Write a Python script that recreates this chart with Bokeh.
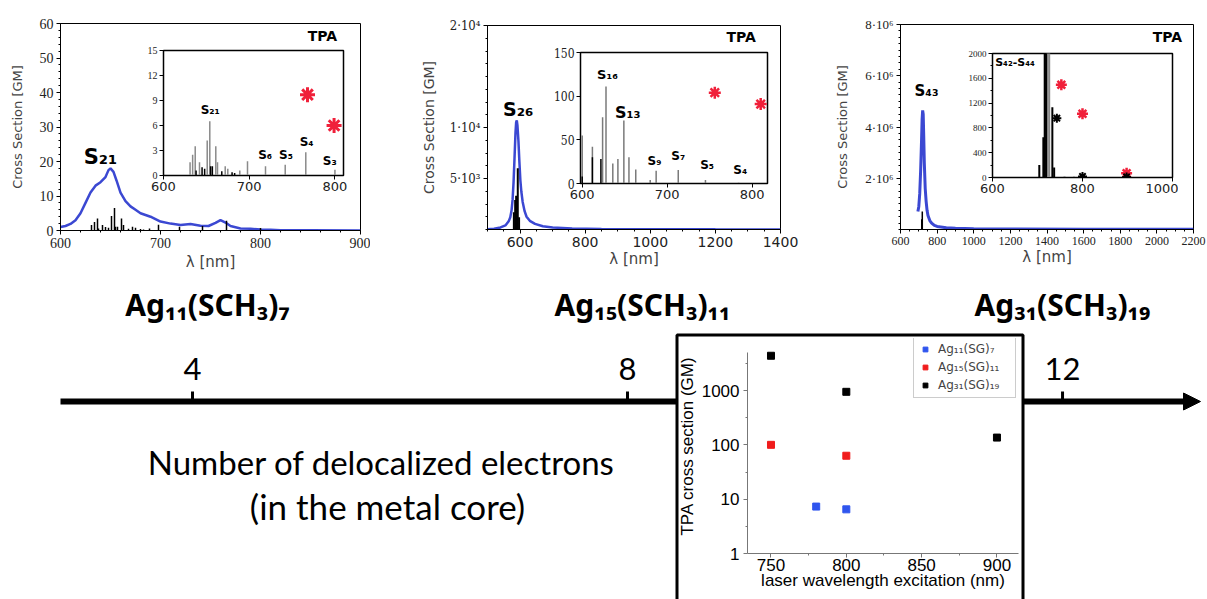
from bokeh.plotting import figure
from bokeh.layouts import column
from bokeh.models import (Range1d, FixedTicker, SingleIntervalTicker, Arrow, NormalHead,
                          BoxAnnotation, Label, Legend, LegendItem)
from bokeh.core.properties import value
from bokeh.embed import file_html
from bokeh.resources import INLINE

# ---------------- data ----------------
# Ag11(SCH3)7 TPA spectrum
ag11_wl = [600, 605, 610, 615, 620, 625, 630, 635, 640, 645, 648, 650, 653, 656, 660, 665, 670, 675, 680, 690,
           700, 710, 720, 730, 740, 748, 755, 760, 765, 770, 780, 790, 800, 810, 820, 850, 900]
ag11_cs = [1.0, 1.3, 1.9, 3.0, 5.0, 8.0, 11.0, 13.0, 14.0, 15.5, 17.5, 18.0, 17.0, 14.5, 11.0, 8.5, 7.0, 6.0, 5.0, 4.0,
           2.6, 2.0, 1.6, 1.9, 1.4, 1.3, 2.2, 3.0, 2.3, 1.3, 0.6, 0.5, 0.3, 0.2, 0.1, 0.05, 0.0]
ag11_gray_x = [631, 634, 637, 642, 651, 654, 661, 663, 672, 675, 689, 698, 719, 742, 766, 800]
ag11_gray_y = [1.6, 2.5, 3.5, 1.6, 4.2, 6.5, 3.5, 1.6, 1.1, 0.8, 0.6, 1.7, 1.1, 1.3, 2.8, 0.7]
ag11_black_x = [638, 645, 648, 655, 657, 668, 680, 683]
ag11_black_y = [0.6, 1.0, 0.8, 1.1, 1.1, 0.5, 0.4, 0.3]
ag11_star_x = [768, 799]
ag11_star_y = [9.7, 6.0]

# Ag15(SCH3)11 TPA spectrum
ag15_wl = [500, 520, 540, 555, 565, 570, 574, 577, 580, 583, 586, 588, 590, 592, 595, 598, 601, 604, 608, 614,
           620, 630, 646, 670, 700, 760, 850, 1000, 1200, 1400]
ag15_cs = [30, 80, 200, 400, 800, 1200, 1900, 2900, 4600, 7000, 9500, 10500, 10700, 10200, 8700, 6600, 4800, 3700,
           2700, 1800, 1250, 850, 550, 320, 200, 110, 60, 30, 15, 10]
ag15_main_x = [581, 585, 588, 593, 597]
ag15_main_y = [1700, 2900, 3300, 6000, 1200]
ag15_gray_x = [600, 612, 624, 628, 636, 642, 649, 655, 663, 680, 687, 713, 745, 784]
ag15_gray_y = [55, 42, 76, 111, 23, 28, 72, 30, 16, 4, 14.5, 15.6, 4, 1]
ag15_black_x = [600, 612, 622]
ag15_black_y = [8, 30, 28]
ag15_star_x = [756, 810]
ag15_star_y = [104, 91]

# Ag31(SCH3)19 TPA spectrum
ag31_wl = [695, 700, 705, 710, 715, 718, 721, 724, 727, 730, 735, 740, 745, 750, 760, 770, 785, 800, 850, 900,
           1000, 1200, 1600, 2200]
ag31_cs = [0.7e6, 0.9e6, 1.4e6, 2.3e6, 3.5e6, 4.3e6, 4.65e6, 4.5e6, 3.6e6, 2.6e6, 1.6e6, 1.1e6, 0.75e6, 0.55e6,
           0.35e6, 0.25e6, 0.16e6, 0.12e6, 0.07e6, 0.05e6, 0.03e6, 0.02e6, 0.01e6, 0.01e6]
ag31_black_x = [704, 713, 716, 719, 733, 737]
ag31_black_y = [200, 650, 4.0e5, 7.0e5, 1135, 160]
ag31_gray_x = [722, 726, 760, 781]
ag31_gray_y = [3.0e5, 2.0e5, 20, 15]
ag31_red_x = [753, 800, 898]
ag31_red_y = [1497, 1027, 70]
ag31_blk_x = [743, 800, 898]
ag31_blk_y = [957, 16, 10]

# measured TPA cross sections (bottom chart)
exp_ag11_x = [780, 800]
exp_ag11_y = [7.3, 6.5]
exp_ag15_x = [750, 800]
exp_ag15_y = [100, 63]
exp_ag31_x = [750, 800, 900]
exp_ag31_y = [4360, 946, 136]

# timeline
electrons = [4, 8, 12]

BLUE = "#3b48d2"
RED = "#f0203a"


def frame_fig(fl, ft, fw, fh, bl, br, bt, bb, xr, yr, **kw):
    f = figure(width=fw + bl + br, height=fh + bt + bb, x_range=xr, y_range=yr,
               output_backend="svg", toolbar_location=None, frame_align=False,
               min_border_left=bl, min_border_right=br, min_border_top=bt, min_border_bottom=bb, **kw)
    f.styles = {"position": "absolute", "left": f"{fl - bl}px", "top": f"{ft - bt}px"}
    f.border_fill_color = None
    f.background_fill_color = "white"
    f.grid.visible = False
    f.outline_line_color = "black"
    return f


def style_axis(ax, font, size, color="#222222", tick_out=4, standoff=3):
    ax.major_label_text_font = font
    ax.major_label_text_font_size = size
    ax.major_label_text_color = color
    ax.major_tick_out = tick_out
    ax.major_tick_in = 0
    ax.minor_tick_out = 2
    ax.minor_tick_in = 0
    ax.major_label_standoff = standoff
    ax.axis_line_color = "black"
    ax.axis_label_text_font_style = "normal"
    ax.axis_label_text_font = "DejaVu Sans"
    ax.axis_label_text_color = "#444444"


def add_label(f, x, y, text, size, bold=True, align="center", font="DejaVu Sans", color="black"):
    f.add_layout(Label(x=x, y=y, text=text, text_font=font, text_font_size=size,
                       text_font_style="bold" if bold else "normal", text_align=align,
                       text_baseline="middle", text_color=color))


# ---------------- canvas (timeline, titles) ----------------
canvas = figure(width=1207, height=599, x_range=Range1d(0, 1207), y_range=Range1d(599, 0),
                output_backend="svg", toolbar_location=None, min_border=0, frame_align=False,
                x_axis_location=None, y_axis_location=None)
canvas.grid.visible = False
canvas.outline_line_color = None
canvas.styles = {"position": "absolute", "left": "0px", "top": "0px"}
canvas.extra_x_ranges = {"el": Range1d(2.2345, 13.333)}

canvas.add_layout(Arrow(x_start=60, y_start=401, x_end=1200, y_end=401, line_width=6, line_color="black",
                        end=NormalHead(size=17, fill_color="black", line_color="black", line_width=1)))
canvas.segment(x0=electrons, y0=391, x1=electrons, y1=401, x_range_name="el", line_width=3, line_color="black")
canvas.text(x=electrons, y=368, text=[str(e) for e in electrons], x_range_name="el",
            text_font=value("Lato"), text_font_size="31px", text_align="center", text_baseline="middle",
            text_color="black")
canvas.add_layout(BoxAnnotation(left=676.5, right=1022.5, top=334.5, bottom=610, fill_color="white", fill_alpha=1,
                                line_color="black", line_alpha=1, line_width=3))
canvas.add_layout(Label(x=381, y=461, text="Number of delocalized electrons", text_font="Lato",
                        text_font_size="33px", text_align="center", text_baseline="alphabetic", text_color="black"))
canvas.add_layout(Label(x=387, y=505, text="(in the metal core)", text_font="Lato",
                        text_font_size="35px", text_align="center", text_baseline="alphabetic", text_color="black"))
for x, t in [(207, "Ag₁₁(SCH₃)₇"), (642, "Ag₁₅(SCH₃)₁₁"), (1062, "Ag₃₁(SCH₃)₁₉")]:
    canvas.add_layout(Label(x=x, y=304, text=t, text_font="Noto Sans", text_font_size="30px",
                            text_font_style="bold", text_align="center", text_baseline="alphabetic",
                            text_color="black"))

# ---------------- panel 1: Ag11 ----------------
p1 = frame_fig(60, 23, 300, 207, 60, 10, 10, 45, Range1d(600, 900), Range1d(0, 60))
p1.line(ag11_wl, ag11_cs, line_color=BLUE, line_width=2.5)
p1.segment(x0=ag11_gray_x, y0=0, x1=ag11_gray_x, y1=ag11_gray_y, line_color="black", line_width=1.5)
p1.segment(x0=ag11_black_x, y0=0, x1=ag11_black_x, y1=ag11_black_y, line_color="black", line_width=1.5)
p1.xaxis.ticker = SingleIntervalTicker(interval=100, num_minor_ticks=5)
p1.yaxis.ticker = SingleIntervalTicker(interval=10, num_minor_ticks=5)
for ax in (p1.xaxis[0], p1.yaxis[0]):
    style_axis(ax, "Liberation Serif", "14px")
p1.xaxis.axis_label = "λ [nm]"
p1.yaxis.axis_label = "Cross Section [GM]"
p1.xaxis.axis_label_text_font_size = "15px"
p1.yaxis.axis_label_text_font_size = "13px"
p1.xaxis.axis_label_standoff = 2
p1.yaxis.axis_label_standoff = 12
add_label(p1, 640, 21.2, "S₂₁", "21px")
add_label(p1, 862, 56.5, "TPA", "14px")

i1 = frame_fig(163, 50, 180, 125, 26, 6, 6, 24, Range1d(600, 810), Range1d(0, 15))
i1.outline_line_width = 1.5
i1.segment(x0=ag11_gray_x, y0=0, x1=ag11_gray_x, y1=ag11_gray_y, line_color="#8a8a8a", line_width=1.5)
i1.segment(x0=ag11_black_x, y0=0, x1=ag11_black_x, y1=ag11_black_y, line_color="black", line_width=1.5)
i1.scatter(ag11_star_x, ag11_star_y, marker="asterisk", size=15, line_color=RED, line_width=3)
i1.xaxis.ticker = FixedTicker(ticks=[600, 700, 800], minor_ticks=[])
i1.yaxis.ticker = FixedTicker(ticks=[0, 3, 6, 9, 12, 15], minor_ticks=[])
style_axis(i1.xaxis[0], "DejaVu Sans", "13px", standoff=2)
style_axis(i1.yaxis[0], "Liberation Serif", "10px", standoff=2)
for x, y, t in [(654.6, 7.9, "S₂₁"), (718.6, 2.5, "S₆"), (743, 2.5, "S₅"), (767, 4.0, "S₄"), (794, 1.8, "S₃")]:
    add_label(i1, x, y, t, "12px")

# ---------------- panel 2: Ag15 ----------------
p2 = frame_fig(482, 25, 298, 204, 65, 20, 10, 45, Range1d(500, 1400), Range1d(0, 20000))
p2.line(ag15_wl, ag15_cs, line_color=BLUE, line_width=2.5)
p2.segment(x0=ag15_main_x, y0=0, x1=ag15_main_x, y1=ag15_main_y, line_color="black", line_width=2)
p2.xaxis.ticker = FixedTicker(ticks=[600, 800, 1000, 1200, 1400], minor_ticks=list(range(500, 1401, 50)))
p2.yaxis.ticker = FixedTicker(ticks=[5000, 10000, 20000], minor_ticks=list(range(0, 20001, 1250)))
p2.yaxis.major_label_overrides = {5000: "5·10³", 10000: "1·10⁴", 20000: "2·10⁴"}
style_axis(p2.xaxis[0], "DejaVu Sans", "14px")
style_axis(p2.yaxis[0], "DejaVu Serif Condensed", "13px")
p2.xaxis.axis_label = "λ [nm]"
p2.yaxis.axis_label = "Cross Section [GM]"
p2.xaxis.axis_label_text_font_size = "15px"
p2.yaxis.axis_label_text_font_size = "14px"
p2.xaxis.axis_label_standoff = 0
p2.yaxis.axis_label_standoff = 10
add_label(p2, 594.5, 11830, "S₂₆", "19px")
add_label(p2, 1279, 18850, "TPA", "14px")

i2 = frame_fig(580, 52, 187, 131, 30, 6, 6, 24, Range1d(598, 818), Range1d(0, 150))
i2.outline_line_width = 1.5
i2.segment(x0=ag15_gray_x, y0=0, x1=ag15_gray_x, y1=ag15_gray_y, line_color="#7a7a7a", line_width=1.5)
i2.segment(x0=ag15_black_x, y0=0, x1=ag15_black_x, y1=ag15_black_y, line_color="black", line_width=1.5)
i2.scatter(ag15_star_x, ag15_star_y, marker="asterisk", size=12, line_color=RED, line_width=2.5)
i2.xaxis.ticker = FixedTicker(ticks=[600, 700, 800], minor_ticks=[])
i2.yaxis.ticker = FixedTicker(ticks=[0, 50, 100, 150], minor_ticks=[])
style_axis(i2.xaxis[0], "DejaVu Sans", "13px", standoff=2)
style_axis(i2.yaxis[0], "DejaVu Serif Condensed", "12px", standoff=2)
for x, y, t, s in [(629.7, 124.8, "S₁₆", "13px"), (653.5, 81.7, "S₁₃", "16px"), (685, 26, "S₉", "12px"),
                   (713, 32, "S₇", "12px"), (747, 21, "S₅", "12px"), (786, 15.7, "S₄", "12px")]:
    add_label(i2, x, y, t, s)

# ---------------- panel 3: Ag31 ----------------
p3 = frame_fig(897, 24, 296, 205, 65, 14, 10, 45, Range1d(600, 2200), Range1d(0, 8e6))
p3.line(ag31_wl, ag31_cs, line_color=BLUE, line_width=3)
p3.segment(x0=ag31_black_x, y0=0, x1=ag31_black_x, y1=ag31_black_y, line_color="black", line_width=1.5)
p3.xaxis.ticker = FixedTicker(ticks=list(range(600, 2201, 200)), minor_ticks=list(range(600, 2201, 50)))
p3.yaxis.ticker = FixedTicker(ticks=[2e6, 4e6, 6e6, 8e6], minor_ticks=[k * 2.5e5 for k in range(33)])
p3.yaxis.major_label_overrides = {2e6: "2·10⁶", 4e6: "4·10⁶", 6e6: "6·10⁶", 8e6: "8·10⁶"}
style_axis(p3.xaxis[0], "Liberation Serif", "12px")
style_axis(p3.yaxis[0], "Liberation Serif", "13px")
p3.xaxis.axis_label = "λ [nm]"
p3.yaxis.axis_label = "Cross Section [GM]"
p3.xaxis.axis_label_text_font_size = "15px"
p3.yaxis.axis_label_text_font_size = "13px"
p3.xaxis.axis_label_standoff = 0
p3.yaxis.axis_label_standoff = 12
add_label(p3, 742, 5.42e6, "S₄₃", "15px")
add_label(p3, 2058, 7.5e6, "TPA", "14px")

i3 = frame_fig(992, 53, 180, 124, 30, 6, 6, 24, Range1d(600, 1000), Range1d(0, 2000))
i3.outline_line_width = 1.5
i3.segment(x0=ag31_gray_x, y0=0, x1=ag31_gray_x, y1=ag31_gray_y, line_color="#8a8a8a", line_width=2)
i3.segment(x0=ag31_black_x, y0=0, x1=ag31_black_x, y1=ag31_black_y, line_color="black", line_width=2)
i3.scatter(ag31_red_x, ag31_red_y, marker="asterisk", size=11, line_color=RED, line_width=2.5)
i3.scatter(ag31_blk_x, ag31_blk_y, marker="asterisk", size=9, line_color="black", line_width=2)
i3.xaxis.ticker = FixedTicker(ticks=[600, 800, 1000], minor_ticks=[])
i3.yaxis.ticker = FixedTicker(ticks=[0, 400, 800, 1200, 1600, 2000], minor_ticks=[200, 600, 1000, 1400, 1800])
style_axis(i3.xaxis[0], "DejaVu Sans", "13px", standoff=2)
style_axis(i3.yaxis[0], "Liberation Serif", "9px", standoff=2)
add_label(i3, 606, 1850, "S₄₂-S₄₄", "11px", align="left")

# ---------------- bottom chart: measured TPA cross sections ----------------
pb = frame_fig(744, 338, 274, 215, 70, 4, 10, 46, Range1d(734.4, 914.3), Range1d(1, 9060), y_axis_type="log")
pb.outline_line_color = None
pb.background_fill_color = None
r11 = pb.scatter(exp_ag11_x, exp_ag11_y, marker="square", size=7, color="#2f55ee")
r15 = pb.scatter(exp_ag15_x, exp_ag15_y, marker="square", size=7, color="#f01c1c")
r31 = pb.scatter(exp_ag31_x, exp_ag31_y, marker="square", size=7, color="black")
pb.xaxis.ticker = FixedTicker(ticks=[750, 800, 850, 900], minor_ticks=[775, 825, 875])
pb.yaxis.ticker = FixedTicker(ticks=[1, 10, 100, 1000], minor_ticks=[3.16, 31.6, 316, 3162])
pb.yaxis.major_label_overrides = {1: "1", 10: "10", 100: "100", 1000: "1000"}
pb.yaxis.bounds = (1, 5000)
for ax in (pb.xaxis[0], pb.yaxis[0]):
    style_axis(ax, "Liberation Sans", "17px", color="black", tick_out=4, standoff=4)
    ax.axis_line_color = "#777777"
    ax.major_tick_line_color = "#777777"
    ax.minor_tick_line_color = "#777777"
    ax.axis_label_text_font = "Liberation Sans"
    ax.axis_label_text_color = "black"
    ax.axis_label_text_font_size = "17px"
pb.xaxis.major_label_standoff = 1
pb.xaxis.axis_label = "laser wavelength excitation (nm)"
pb.yaxis.axis_label = "TPA cross section (GM)"
pb.xaxis.axis_label_standoff = -3
pb.yaxis.axis_label_standoff = 2
legend = Legend(items=[LegendItem(label="Ag₁₁(SG)₇", renderers=[r11]),
                       LegendItem(label="Ag₁₅(SG)₁₁", renderers=[r15]),
                       LegendItem(label="Ag₃₁(SG)₁₉", renderers=[r31])],
                location=(166, 155))
legend.border_line_color = "#999999"
legend.label_text_font = "DejaVu Sans"
legend.label_text_font_size = "12px"
legend.glyph_width = 12
legend.glyph_height = 12
legend.label_height = 15
legend.label_width = 72
legend.spacing = 3
legend.padding = 5
legend.margin = 0
legend.label_standoff = 7
legend.background_fill_color = "white"
pb.add_layout(legend)

root = column(canvas, p1, i1, p2, i2, p3, i3, pb, width=1207, height=599,
              styles={"position": "relative"})

open("out.html", "w").write(file_html(root, INLINE))
